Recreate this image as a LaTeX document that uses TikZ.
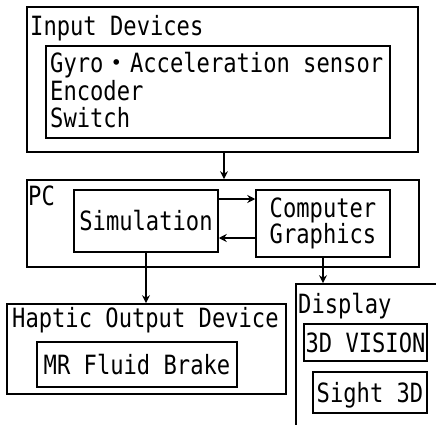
\documentclass[tikz,border=0pt]{standalone}
\usepackage{fontspec}
\newfontfamily\gfont{DejaVu Sans Mono}[FakeStretch=0.835]
\newfontfamily\cjk{Noto Sans CJK JP}
\usetikzlibrary{arrows.meta}
\tikzset{
  box/.style={draw, line width=1.7pt, rectangle, inner sep=0pt},
  inbox/.style={draw, line width=1.5pt, rectangle, inner sep=0pt, text height=19pt, text depth=0pt},
  txt/.style={inner sep=0pt, anchor=base west},
  arr/.style={line width=2.2pt, -{Stealth[length=8pt,width=8pt]}},
}
\begin{document}
\begin{tikzpicture}[x=1pt,y=-1pt,font=\gfont\fontsize{26.5}{24}\selectfont]
\clip (0,0) rectangle (436,425);
\fill[white] (0,0) rectangle (436,425);
% Input devices
\node[box, minimum width=391pt, minimum height=145pt] (inp) at (222.5,79.5) {};
\node[inbox, minimum width=344pt, minimum height=92pt, text height=, text depth=] (inpin) at (218,92) {};
\node[txt] (tinp) at (30,36) {Input Devices};
\node[txt] (l1) at (50,73) {Gyro\makebox[26.6pt]{\cjk\fontsize{26.5}{24}\selectfont ・}Acceleration sensor};
\node[txt] (l2) at (50,101) {Encoder};
\node[txt] (l3) at (50,128) {Switch};
% PC
\node[box, minimum width=392pt, minimum height=87pt] (pc) at (223,223.5) {};
\node[txt] (tpc) at (28,205) {PC};
\node[inbox, minimum width=144pt, minimum height=62pt] (sim) at (146,221) {Simulation};
\node[box, line width=1.5pt, minimum width=134pt, minimum height=67pt, align=center] (cg) at (323,223.5) {Computer\\Graphics};
% Haptic
\node[box, minimum width=279pt, minimum height=90pt] (hap) at (146.5,349) {};
\node[txt] (thap) at (12,327) {Haptic Output Device};
\node[inbox, minimum width=200pt, minimum height=45pt] (mr) at (137,364.5) {MR Fluid Brake};
% Display
\node[box, minimum width=149pt, minimum height=156pt] (disp) at (370.5,362) {};
\node[txt] (tdisp) at (298,313) {Display};
\node[inbox, minimum width=123pt, minimum height=37pt] (v3d) at (365.5,342.5) {3D VISION};
\node[inbox, minimum width=114pt, minimum height=41pt] (s3d) at (370,392.5) {Sight 3D};
% arrows
\draw[arr] (inp.south -| 224,0) -- (pc.north -| 224,0);
\draw[arr] ([yshift=22pt]sim.east) -- ([yshift=22pt]sim.east -| cg.west);
\draw[arr] ([yshift=-17pt]sim.east -| cg.west) -- ([yshift=-17pt]sim.east);
\draw[arr] (sim.south) -- (sim.south |- hap.north);
\draw[arr] (cg.south) -- (cg.south |- disp.north);
\end{tikzpicture}
\end{document}
